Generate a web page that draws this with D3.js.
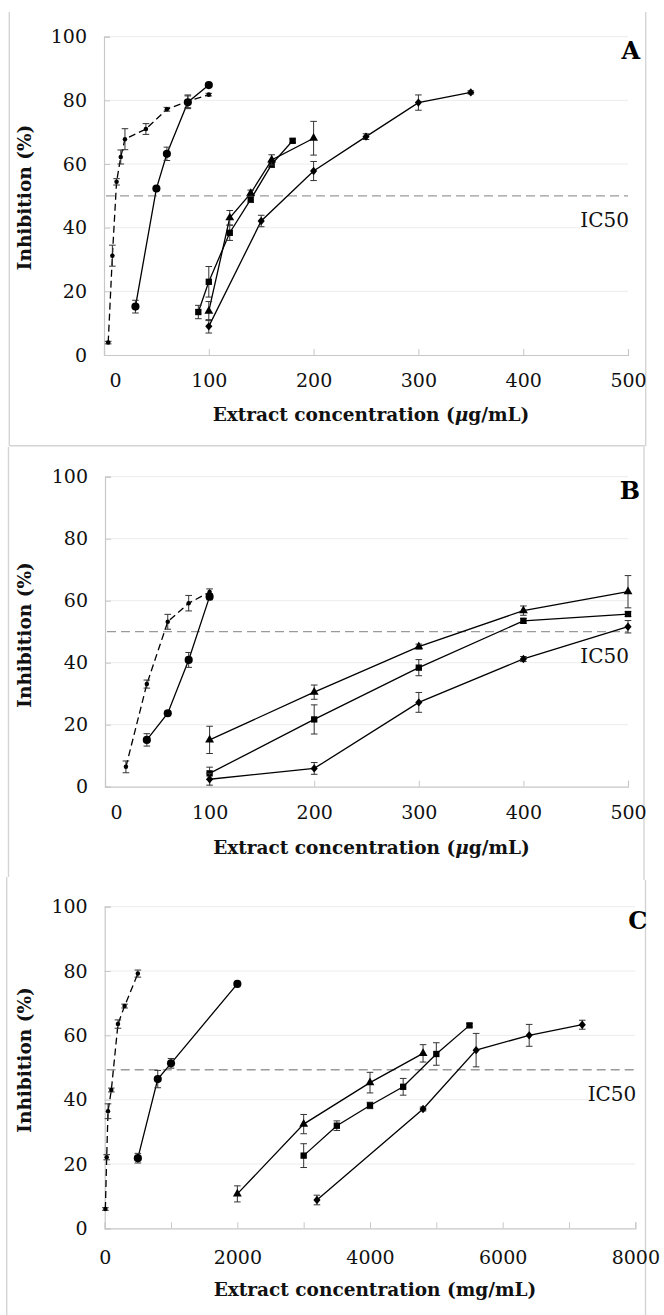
<!DOCTYPE html>
<html>
<head>
<meta charset="utf-8">
<script src="https://cdn.jsdelivr.net/npm/d3@7"></script>
<style>
  html, body { margin: 0; padding: 0; background: #fff; }
  svg { display: block; }
</style>
</head>
<body>
<svg id="fig" width="664" height="1315"></svg>
<script>
// ---------------- Panel A (µg/mL) ----------------
const aRefConc = [4, 8, 12, 16, 20, 40, 60, 80, 100];
const aRefInh  = [3.9, 31.2, 54.4, 62.2, 67.8, 71.0, 77.2, 79.7, 81.8];
const aRefErr  = [0.4, 3.3, 1.0, 2.2, 3.3, 1.7, 0.6, 2.0, 0.4];

const aCircleConc = [30, 50, 60, 80, 100];
const aCircleInh  = [15.2, 52.3, 63.2, 79.4, 84.8];
const aCircleErr  = [2.0, 0.6, 2.1, 2.0, 0.6];

const aSquareConc = [90, 100, 120, 140, 160, 180];
const aSquareInh  = [13.5, 23.0, 38.4, 48.9, 59.9, 67.3];
const aSquareErr  = [2.1, 4.8, 2.4, 1.0, 1.0, 0.6];

const aTriangleConc = [100, 120, 140, 160, 200];
const aTriangleInh  = [13.8, 43.1, 50.8, 61.3, 68.1];
const aTriangleErr  = [3.0, 2.3, 1.0, 1.6, 5.3];

const aDiamondConc = [100, 150, 200, 250, 300, 350];
const aDiamondInh  = [9.0, 42.1, 57.8, 68.6, 79.3, 82.5];
const aDiamondErr  = [2.1, 1.8, 3.0, 0.9, 2.4, 0.5];

// ---------------- Panel B (µg/mL) ----------------
const bRefConc = [20, 40, 60, 80, 100];
const bRefInh  = [6.4, 33.1, 53.2, 59.2, 62.8];
const bRefErr  = [1.9, 1.3, 2.4, 2.5, 1.0];

const bCircleConc = [40, 60, 80, 100];
const bCircleInh  = [15.1, 23.7, 40.9, 61.3];
const bCircleErr  = [2.0, 0.6, 2.4, 1.0];

const bExtractConc = [100, 200, 300, 400, 500];
const bTriangleInh = [15.1, 30.5, 45.2, 56.8, 62.9];
const bTriangleErr = [4.4, 2.3, 0.8, 1.5, 5.2];
const bSquareInh   = [4.3, 21.7, 38.4, 53.5, 55.7];
const bSquareErr   = [2.0, 4.7, 2.6, 0.8, 0.8];
const bDiamondInh  = [2.4, 5.9, 27.2, 41.2, 51.6];
const bDiamondErr  = [1.9, 1.9, 3.2, 0.8, 2.0];

// ---------------- Panel C (mg/mL) ----------------
const cRefConc = [10, 30, 50, 100, 200, 300, 500];
const cRefInh  = [6.0, 22.1, 36.4, 43.0, 63.5, 69.1, 79.2];
const cRefErr  = [0.4, 0.8, 2.3, 0.6, 1.3, 0.6, 1.1];

const cCircleConc = [500, 800, 1000, 2000];
const cCircleInh  = [21.8, 46.4, 51.3, 76.0];
const cCircleErr  = [1.5, 2.7, 1.5, 0.5];

const cTriangleConc = [2000, 3000, 4000, 4800];
const cTriangleInh  = [10.7, 32.4, 45.3, 54.4];
const cTriangleErr  = [2.5, 3.0, 3.2, 2.7];

const cSquareConc = [3000, 3500, 4000, 4500, 5000, 5500];
const cSquareInh  = [22.6, 31.9, 38.2, 44.0, 54.2, 63.1];
const cSquareErr  = [3.7, 1.5, 1.0, 2.6, 3.5, 0.5];

const cDiamondConc = [3200, 4800, 5600, 6400, 7200];
const cDiamondInh  = [8.8, 37.1, 55.4, 60.0, 63.3];
const cDiamondErr  = [1.5, 0.6, 5.2, 3.4, 1.4];

// axis ticks and threshold lines
const yTicks = [0, 20, 40, 60, 80, 100];
const abTicks = [0, 100, 200, 300, 400, 500];
const cTicks = [0, 1000, 2000, 3000, 4000, 5000, 6000, 7000, 8000];
const cLabelTicks = [0, 2000, 4000, 6000, 8000];
const ic50Levels = { A: 50, B: 50, C: 49.3 };

// ---------------- helpers ----------------
const zip = (c, v, e) => c.map((x, i) => ({ c: x, v: v[i], e: e[i] }));

// diamond drawn as a rotated square, slightly taller than wide
const symbolRhomb = {
  draw(ctx, size) {
    const h = Math.sqrt(size / 1.7);
    const w = h * 0.85;
    ctx.moveTo(0, -h); ctx.lineTo(w, 0); ctx.lineTo(0, h); ctx.lineTo(-w, 0); ctx.closePath();
  }
};
const markers = {
  dot:      { type: d3.symbolCircle,   size: 16 },
  circle:   { type: d3.symbolCircle,   size: 52 },
  square:   { type: d3.symbolSquare,   size: 40 },
  triangle: { type: d3.symbolTriangle, size: 34 },
  diamond:  { type: symbolRhomb,       size: 30 }
};

const panels = [
  {
    id: "A", unit: "μg/mL", xMax: 500, ticks: abTicks, labels: abTicks,
    box: { left: 104, right: 628, top: 36.7, bottom: 355 },
    zeroShift: 11, labelPad: 19, titleY: 415, yTitleY: 197.5,
    frame: [[9.3, 12, 9.3, 445.7], [9.3, 445.7, 645.7, 445.7], [645.7, 12, 645.7, 445.7]],
    series: [
      { m: "dot", dashed: true, pts: zip(aRefConc, aRefInh, aRefErr) },
      { m: "circle", pts: zip(aCircleConc, aCircleInh, aCircleErr) },
      { m: "square", pts: zip(aSquareConc, aSquareInh, aSquareErr) },
      { m: "triangle", pts: zip(aTriangleConc, aTriangleInh, aTriangleErr) },
      { m: "diamond", pts: zip(aDiamondConc, aDiamondInh, aDiamondErr) }
    ]
  },
  {
    id: "B", unit: "μg/mL", xMax: 500, ticks: abTicks, labels: abTicks,
    box: { left: 105, right: 628, top: 476.7, bottom: 786.7 },
    zeroShift: 11, labelPad: 19, titleY: 848, yTitleY: 635,
    frame: [[8.5, 447, 8.5, 877], [644, 447, 644, 880]],
    series: [
      { m: "dot", dashed: true, pts: zip(bRefConc, bRefInh, bRefErr) },
      { m: "circle", pts: zip(bCircleConc, bCircleInh, bCircleErr) },
      { m: "triangle", pts: zip(bExtractConc, bTriangleInh, bTriangleErr) },
      { m: "square", pts: zip(bExtractConc, bSquareInh, bSquareErr) },
      { m: "diamond", pts: zip(bExtractConc, bDiamondInh, bDiamondErr) }
    ]
  },
  {
    id: "C", unit: "mg/mL", xMax: 8000, ticks: cTicks, labels: cLabelTicks,
    box: { left: 104.7, right: 635.3, top: 906.7, bottom: 1228.3 },
    zeroShift: 0, labelPad: 22, titleY: 1290, yTitleY: 1060,
    frame: [[6.7, 877, 6.7, 1315], [645.5, 880, 645.5, 1315]],
    series: [
      { m: "dot", dashed: true, pts: zip(cRefConc, cRefInh, cRefErr) },
      { m: "circle", pts: zip(cCircleConc, cCircleInh, cCircleErr) },
      { m: "triangle", pts: zip(cTriangleConc, cTriangleInh, cTriangleErr) },
      { m: "square", pts: zip(cSquareConc, cSquareInh, cSquareErr) },
      { m: "diamond", pts: zip(cDiamondConc, cDiamondInh, cDiamondErr) }
    ]
  }
];

const svg = d3.select("#fig");
const FONT = "'DejaVu Serif', 'Liberation Serif', serif";

panels.forEach(p => {
  const g = svg.append("g").attr("class", "panel-" + p.id);
  const b = p.box;
  const x = d3.scaleLinear().domain([0, p.xMax]).range([b.left, b.right]);
  const y = d3.scaleLinear().domain([0, 100]).range([b.bottom, b.top]);

  // panel frame
  g.append("g").selectAll("line").data(p.frame).join("line")
    .attr("x1", d => d[0]).attr("y1", d => d[1]).attr("x2", d => d[2]).attr("y2", d => d[3])
    .attr("stroke", "#d4d4d4").attr("stroke-width", 1.4);

  // horizontal gridlines
  g.append("g").selectAll("line").data(yTicks.filter(t => t > 0)).join("line")
    .attr("x1", b.left).attr("x2", b.right)
    .attr("y1", d => y(d)).attr("y2", d => y(d))
    .attr("stroke", "#ececec").attr("stroke-width", 1);

  // y axis
  const yAxis = g.append("g").attr("transform", `translate(${b.left},0)`)
    .call(d3.axisLeft(y).tickValues(yTicks).tickSize(-6).tickPadding(17).tickFormat(d3.format("d")));
  yAxis.select(".domain").attr("stroke", "#c8c8c8").attr("stroke-width", 1.2);
  yAxis.selectAll(".tick line").attr("stroke", "#c8c8c8");
  yAxis.selectAll(".tick text").attr("font-family", FONT).attr("font-size", 19).attr("fill", "#111");

  // x axis with inward tick marks
  const xAxis = g.append("g").attr("transform", `translate(0,${b.bottom})`)
    .call(d3.axisBottom(x).tickValues(p.ticks).tickSize(-6).tickPadding(p.labelPad)
      .tickFormat(d => p.labels.includes(d) ? d3.format("d")(d) : ""));
  xAxis.select(".domain").attr("stroke", "#c8c8c8").attr("stroke-width", 1.2);
  xAxis.selectAll(".tick line").attr("stroke", "#c8c8c8");
  xAxis.selectAll(".tick text").attr("font-family", FONT).attr("font-size", 19).attr("fill", "#111");
  xAxis.selectAll(".tick").filter(d => d === 0).select("text").attr("dx", p.zeroShift);

  // IC50 threshold
  const lvl = ic50Levels[p.id];
  g.append("line")
    .attr("x1", b.left + 2).attr("x2", b.right)
    .attr("y1", y(lvl)).attr("y2", y(lvl))
    .attr("stroke", "#9a9a9a").attr("stroke-width", 1.3).attr("stroke-dasharray", "9,5");
  g.append("text")
    .attr("x", b.right + 1).attr("y", y(lvl) + 31)
    .attr("text-anchor", "end").attr("font-family", FONT).attr("font-size", 20).attr("fill", "#111")
    .text("IC50");

  // series: line, error bars, markers
  const line = d3.line().x(d => x(d.c)).y(d => y(d.v));
  p.series.forEach(s => {
    const sg = g.append("g");
    sg.append("path").datum(s.pts)
      .attr("d", line).attr("fill", "none").attr("stroke", "#000")
      .attr("stroke-width", 1.3)
      .attr("stroke-dasharray", s.dashed ? "7,4" : null);

    const eb = sg.append("g").attr("stroke", "#333").attr("stroke-width", 1);
    eb.selectAll("line.v").data(s.pts).join("line").attr("class", "v")
      .attr("x1", d => x(d.c)).attr("x2", d => x(d.c))
      .attr("y1", d => y(d.v - d.e)).attr("y2", d => y(d.v + d.e));
    eb.selectAll("line.t").data(s.pts).join("line").attr("class", "t")
      .attr("x1", d => x(d.c) - 3.3).attr("x2", d => x(d.c) + 3.3)
      .attr("y1", d => y(d.v + d.e)).attr("y2", d => y(d.v + d.e));
    eb.selectAll("line.b").data(s.pts).join("line").attr("class", "b")
      .attr("x1", d => x(d.c) - 3.3).attr("x2", d => x(d.c) + 3.3)
      .attr("y1", d => y(d.v - d.e)).attr("y2", d => y(d.v - d.e));

    const mk = markers[s.m];
    sg.selectAll("path.mk").data(s.pts).join("path").attr("class", "mk")
      .attr("transform", d => `translate(${x(d.c)},${y(d.v)})`)
      .attr("d", d3.symbol().type(mk.type).size(mk.size))
      .attr("fill", "#000");
  });

  // panel letter
  g.append("text")
    .attr("x", b.right + 12).attr("y", b.top + 22)
    .attr("text-anchor", "end").attr("font-family", FONT).attr("font-weight", "bold")
    .attr("font-size", 24).attr("fill", "#000")
    .text(p.id);

  // axis titles
  const xt = g.append("text")
    .attr("x", (b.left + b.right) / 2 + 5).attr("y", p.titleY)
    .attr("dy", "0.35em")
    .attr("text-anchor", "middle").attr("font-family", FONT).attr("font-weight", "bold")
    .attr("font-size", 18.5).attr("fill", "#111");
  xt.append("tspan").text("Extract concentration (");
  if (p.unit.startsWith("μ")) {
    xt.append("tspan").attr("font-style", "italic").text("μ");
    xt.append("tspan").text(p.unit.slice(1) + ")");
  } else {
    xt.append("tspan").text(p.unit + ")");
  }

  g.append("text")
    .attr("transform", `translate(25,${p.yTitleY}) rotate(-90)`)
    .attr("dy", "0.35em")
    .attr("text-anchor", "middle").attr("font-family", FONT).attr("font-weight", "bold")
    .attr("font-size", 18.5).attr("fill", "#111")
    .text("Inhibition (%)");
});
</script>
</body>
</html>
